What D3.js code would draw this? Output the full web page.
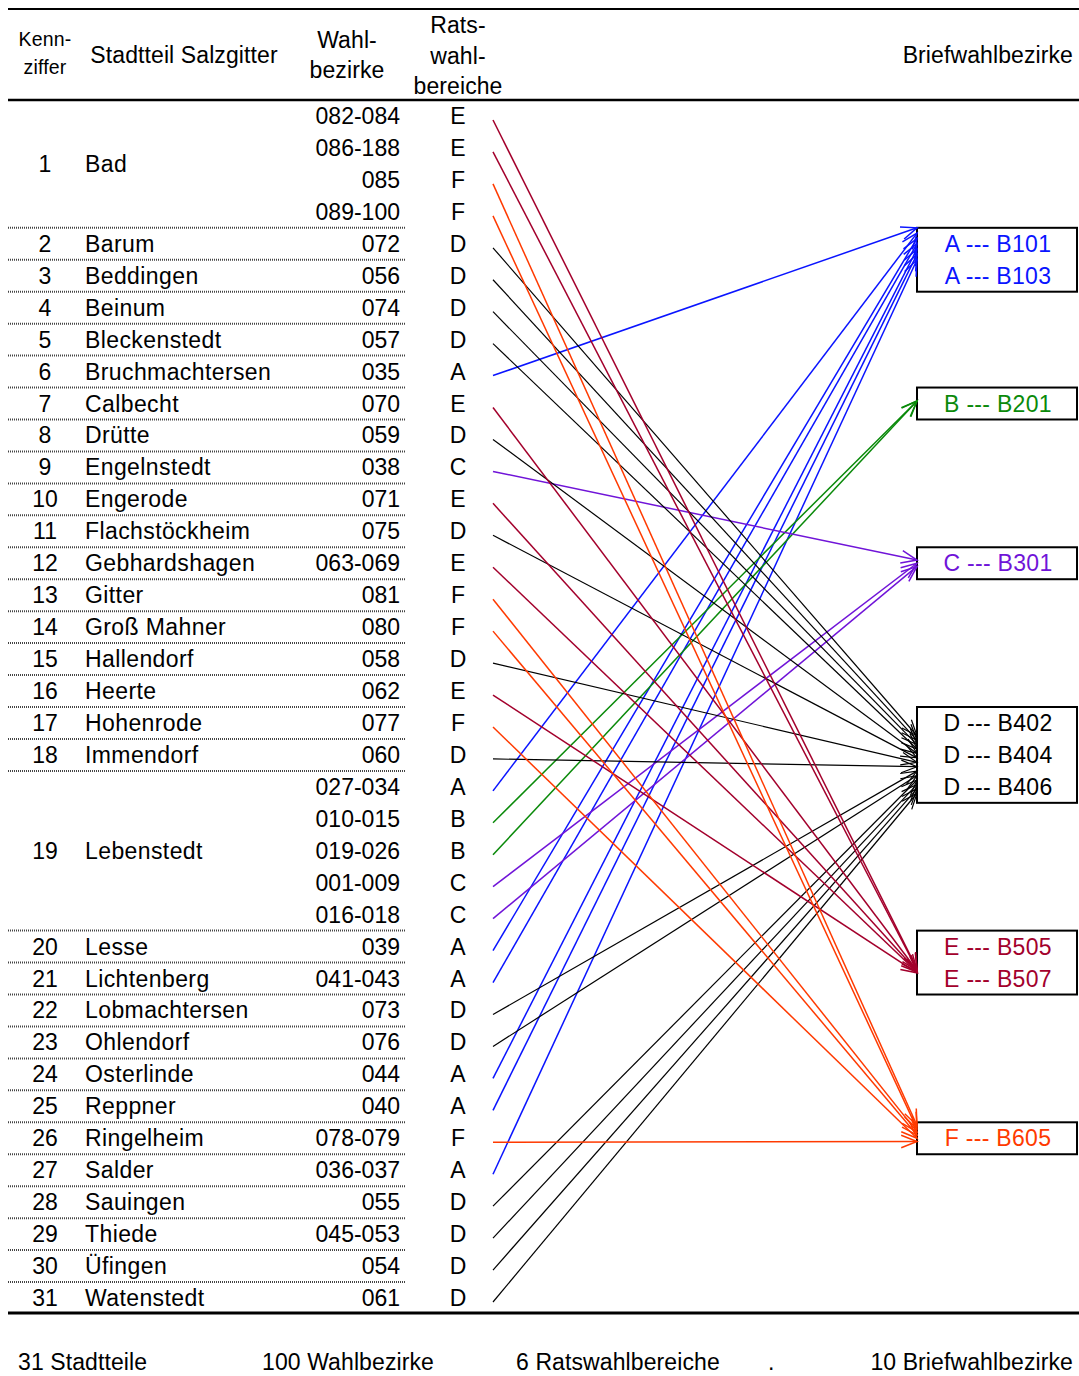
<!DOCTYPE html>
<html><head><meta charset="utf-8">
<script src="https://cdn.jsdelivr.net/npm/d3@7"></script>
<style>body{margin:0;background:#fff}svg{display:block}text{font-family:"Liberation Sans",Arial,sans-serif}</style>
</head><body>
<script>
// ---------- data ----------
const kennziffer = [1,2,3,4,5,6,7,8,9,10,11,12,13,14,15,16,17,18,19,20,21,22,23,24,25,26,27,28,29,30,31];
const stadtteile = ["Bad","Barum","Beddingen","Beinum","Bleckenstedt","Bruchmachtersen","Calbecht","Drütte","Engelnstedt","Engerode","Flachstöckheim","Gebhardshagen","Gitter","Groß Mahner","Hallendorf","Heerte","Hohenrode","Immendorf","Lebenstedt","Lesse","Lichtenberg","Lobmachtersen","Ohlendorf","Osterlinde","Reppner","Ringelheim","Salder","Sauingen","Thiede","Üfingen","Watenstedt"];
const wahlbezirke = [["082-084","086-188","085","089-100"],["072"],["056"],["074"],["057"],["035"],["070"],["059"],["038"],["071"],["075"],["063-069"],["081"],["080"],["058"],["062"],["077"],["060"],["027-034","010-015","019-026","001-009","016-018"],["039"],["041-043"],["073"],["076"],["044"],["040"],["078-079"],["036-037"],["055"],["045-053"],["054"],["061"]];
const ratswahlbereiche = [["E","E","F","F"],["D"],["D"],["D"],["D"],["A"],["E"],["D"],["C"],["E"],["D"],["E"],["F"],["F"],["D"],["E"],["F"],["D"],["A","B","B","C","C"],["A"],["A"],["D"],["D"],["A"],["A"],["F"],["A"],["D"],["D"],["D"],["D"]];
const briefBereiche = ["A","B","C","D","E","F"];
const briefBezirke = [["B101","B103"],["B201"],["B301"],["B402","B404","B406"],["B505","B507"],["B605"]];
const summary = ["31 Stadtteile","100 Wahlbezirke","6 Ratswahlbereiche",".","10 Briefwahlbezirke"];
const headers = {kenn:["Kenn-","ziffer"], stadt:["Stadtteil Salzgitter"], wahl:["Wahl-","bezirke"], rats:["Rats-","wahl-","bereiche"], brief:["Briefwahlbezirke"]};

// ---------- layout ----------
const W = 1079, H = 1376;
const colors = {A:"#0a14ff",B:"#0a8a0a",C:"#7014d8",D:"#000000",E:"#a3002c",F:"#ff3a00"};
const boxStartRow = {A:4,B:9,C:14,D:19,E:26,F:32};
const entryRange = {A:[0.0,0.5],B:[0.42,0.42],C:[0.4,0.6],D:[0.3,0.9],E:[0.6,0.66],F:[0.1,0.6]};
const FS = 23, LS = 0.4, LS2 = 0.1;

// flatten rows
const rows = [];
stadtteile.forEach((s,i)=>{
  wahlbezirke[i].forEach((w,j)=>rows.push({g:i, first:j===0, wahl:w, rats:ratswahlbereiche[i][j]}));
});
const nRows = rows.length;
const y = d3.scaleLinear().domain([0,nRows-1]).range([116,1298]);
const half = (y(1)-y(0))/2;

const svg = d3.select("body").append("svg").attr("width",W).attr("height",H);

// rules
svg.append("line").attr("x1",8).attr("x2",W).attr("y1",9).attr("y2",9).attr("stroke","#000").attr("stroke-width",2);
svg.append("line").attr("x1",8).attr("x2",W).attr("y1",100).attr("y2",100).attr("stroke","#000").attr("stroke-width",2.5);
svg.append("line").attr("x1",8).attr("x2",W).attr("y1",1313).attr("y2",1313).attr("stroke","#000").attr("stroke-width",3);

// headers
function multi(lines, x, y0, dy, anchor, fs, ls){
  lines.forEach((t,i)=>svg.append("text").attr("x",x).attr("y",y0+i*dy).attr("text-anchor",anchor)
    .attr("font-size",fs).attr("letter-spacing",ls||0).text(t));
}
multi(headers.kenn,45,46,28,"middle",19.5,0.2);
multi(headers.stadt,184,63,0,"middle",FS,LS2);
multi(headers.wahl,347,48,30,"middle",FS,LS2);
multi(headers.rats,458,33,30.5,"middle",FS,LS2);
multi(headers.brief,1073,63,0,"end",FS,LS2);

// separators between Stadtteile
const groupStarts = rows.map((r,i)=>r.first && i>0 ? i : null).filter(v=>v!==null);
svg.selectAll("line.sep").data(groupStarts).join("line").attr("class","sep")
  .attr("x1",8).attr("x2",405).attr("y1",i=>y(i)-half).attr("y2",i=>y(i)-half)
  .attr("stroke","#444").attr("stroke-width",2).attr("stroke-dasharray","1,1");

// group label (kennziffer + name) centered on group rows
stadtteile.forEach((s,g)=>{
  const idx = rows.map((r,i)=>r.g===g?i:-1).filter(i=>i>=0);
  const cy = (y(idx[0])+y(idx[idx.length-1]))/2;
  svg.append("text").attr("x",45).attr("y",cy+8).attr("text-anchor","middle").attr("font-size",FS).text(kennziffer[g]);
  svg.append("text").attr("x",85).attr("y",cy+8).attr("font-size",FS).attr("letter-spacing",LS).text(s);
});
svg.selectAll("text.wahl").data(rows).join("text").attr("class","wahl")
  .attr("x",400).attr("y",(d,i)=>y(i)+8).attr("text-anchor","end").attr("font-size",FS).text(d=>d.wahl);
svg.selectAll("text.rats").data(rows).join("text").attr("class","rats")
  .attr("x",458).attr("y",(d,i)=>y(i)+8).attr("text-anchor","middle").attr("font-size",FS).text(d=>d.rats);

// boxes
const bx0 = 917, bx1 = 1077;
const boxes = briefBereiche.map((b,k)=>{
  const r0 = boxStartRow[b], n = briefBezirke[k].length;
  return {b, top:y(r0)-half, bottom:y(r0+n-1)+half, labels:briefBezirke[k], r0};
});
boxes.forEach(bo=>{
  svg.append("rect").attr("x",bx0).attr("y",bo.top).attr("width",bx1-bx0).attr("height",bo.bottom-bo.top)
    .attr("fill","#fff").attr("stroke","#000").attr("stroke-width",2);
  bo.labels.forEach((l,i)=>svg.append("text").attr("x",998).attr("y",y(bo.r0+i)+8).attr("text-anchor","middle")
    .attr("font-size",FS).attr("letter-spacing",0.3).attr("fill",colors[bo.b]).text(bo.b+" --- "+l));
});

// connections
const links = [];
briefBereiche.forEach((b,k)=>{
  const src = rows.map((r,i)=>r.rats===b?i:-1).filter(i=>i>=0);
  const bo = boxes[k];
  const [f0,f1] = entryRange[b];
  const fs = d3.scaleLinear().domain([0,Math.max(1,src.length-1)]).range([f0,f1]);
  src.forEach((i,rank)=>{
    const f = fs(rank);
    links.push({b, x1:493, y1:y(i)+4, x2:bx0, y2:bo.top+(bo.bottom-bo.top)*f});
  });
});
const g = svg.append("g");
links.forEach(l=>{
  const c = colors[l.b];
  const sw = l.b==="D"?1.2:1.5;
  g.append("line").attr("x1",l.x1).attr("y1",l.y1).attr("x2",l.x2).attr("y2",l.y2).attr("stroke",c).attr("stroke-width",sw);
  const ang = Math.atan2(l.y2-l.y1,l.x2-l.x1), len=17, a=0.38;
  const p1=[l.x2-len*Math.cos(ang-a), l.y2-len*Math.sin(ang-a)];
  const p2=[l.x2-len*Math.cos(ang+a), l.y2-len*Math.sin(ang+a)];
  g.append("path").attr("d",`M${p1}L${l.x2},${l.y2}L${p2}`).attr("fill","none").attr("stroke",c).attr("stroke-width",sw);
});

// footer
const footX = [18,262,516,768,1073];
const anchors = ["start","start","start","start","end"];
summary.forEach((t,i)=>svg.append("text").attr("x",footX[i]).attr("y",1370).attr("text-anchor",anchors[i])
  .attr("font-size",FS).attr("letter-spacing",LS2).text(t));
</script>
</body></html>
